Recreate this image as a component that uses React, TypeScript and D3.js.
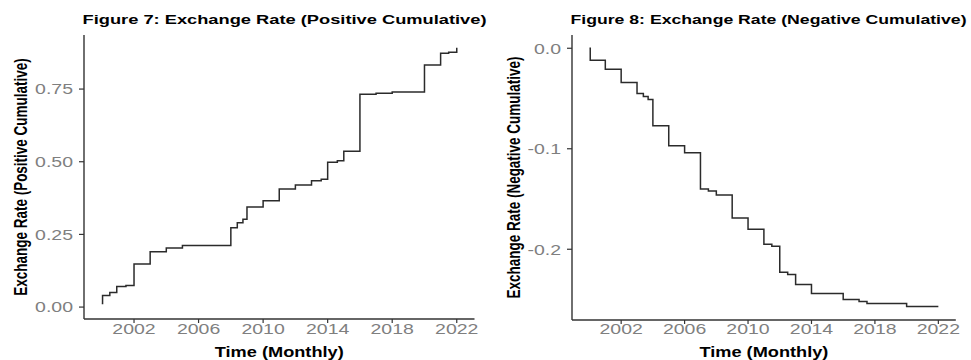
import { curveStepAfter, line, scaleLinear } from "d3";

// decimal year at which each step starts, and the cumulative value from there on
const positiveDates = [
  2000.0, 2000.05, 2000.5, 2000.93, 2001.5, 2002.0, 2003.0, 2004.0, 2005.0, 2008.0, 2008.4,
  2008.75, 2009.0, 2010.0, 2011.0, 2012.0, 2013.0, 2013.6, 2014.0, 2014.6, 2015.0, 2016.0,
  2017.0, 2018.0, 2020.0, 2021.0, 2021.5, 2022.0
];
const positiveValues = [
  0.012, 0.04, 0.05, 0.071, 0.074, 0.148, 0.19, 0.203, 0.212, 0.273, 0.29, 0.302, 0.344,
  0.366, 0.406, 0.42, 0.435, 0.44, 0.498, 0.503, 0.536, 0.732, 0.736, 0.74, 0.833, 0.873,
  0.877, 0.892
];

const negativeDates = [
  2000.0, 2000.05, 2001.0, 2002.0, 2003.0, 2003.4, 2003.7, 2004.0, 2005.0, 2006.0, 2007.0,
  2007.5, 2008.0, 2009.0, 2010.0, 2011.0, 2011.5, 2012.0, 2012.5, 2013.0, 2014.0, 2016.0,
  2017.0, 2017.5, 2020.0, 2022.0
];
const negativeValues = [
  0.0, -0.012, -0.021, -0.034, -0.045, -0.048, -0.051, -0.077, -0.097, -0.104, -0.14,
  -0.142, -0.146, -0.169, -0.18, -0.195, -0.197, -0.223, -0.225, -0.235, -0.244, -0.25,
  -0.252, -0.254, -0.257, -0.257
];

const yearTicks = [2002, 2006, 2010, 2014, 2018, 2022];
const positiveTicks = [0, 0.25, 0.5, 0.75];
const negativeTicks = [0, -0.1, -0.2];

const width = 971;
const height = 360;
const stretch = 1.3;
const axisColor = "#333333";
const tickTextColor = "#7f7f7f";
const fontFamily = "'Liberation Sans', Arial, sans-serif";

interface PanelProps {
  readonly title: string;
  readonly titleLength: number;
  readonly yLabel: string;
  readonly dates: readonly number[];
  readonly values: readonly number[];
  readonly yTicks: readonly number[];
  readonly yDigits: number;
  readonly left: number;
  readonly right: number;
  readonly top: number;
  readonly bottom: number;
  readonly yDomain: [number, number];
  readonly titleX: number;
  readonly yLabelX: number;
}

function StretchText({
  x,
  y,
  children,
  anchor = "start",
  size,
  weight = "normal",
  fill = "#000",
  rotate = false,
  length
}: {
  readonly x: number;
  readonly y: number;
  readonly children: string;
  readonly anchor?: "start" | "middle" | "end";
  readonly size: number;
  readonly weight?: string;
  readonly fill?: string;
  readonly rotate?: boolean;
  readonly length?: number;
}): React.JSX.Element {
  const scale = length === undefined ? ` scale(${stretch},1)` : "";
  return (
    <text
      fill={fill}
      fontFamily={fontFamily}
      fontSize={size}
      fontWeight={weight}
      lengthAdjust={length === undefined ? undefined : "spacingAndGlyphs"}
      textAnchor={anchor}
      textLength={length}
      transform={`translate(${x},${y})${scale}${rotate ? " rotate(-90)" : ""}`}
    >
      {children}
    </text>
  );
}

function Panel(props: PanelProps): React.JSX.Element {
  const x = scaleLinear().domain([1998.9, 2023.1]).range([props.left, props.right]);
  const y = scaleLinear().domain(props.yDomain).range([props.bottom, props.top]);
  const points = props.dates.map((d, i) => [d, props.values[i]] as [number, number]);
  const path =
    line<[number, number]>()
      .curve(curveStepAfter)
      .x(([d]) => x(d))
      .y(([, v]) => y(v))(points) ?? "";

  return (
    <g>
      <StretchText length={props.titleLength} size={13.5} weight="bold" x={props.titleX} y={24}>
        {props.title}
      </StretchText>
      <StretchText
        anchor="middle"
        rotate
        size={13.5}
        weight="bold"
        x={props.yLabelX}
        y={(props.top + props.bottom) / 2}
      >
        {props.yLabel}
      </StretchText>
      <StretchText
        anchor="middle"
        size={14}
        weight="bold"
        x={(props.left + props.right) / 2}
        y={357}
      >
        Time (Monthly)
      </StretchText>

      <line
        stroke={axisColor}
        strokeWidth={1.4}
        x1={props.left}
        x2={props.left}
        y1={props.top}
        y2={props.bottom}
      />
      <line
        stroke={axisColor}
        strokeWidth={1.4}
        x1={props.left}
        x2={props.right}
        y1={props.bottom}
        y2={props.bottom}
      />

      {props.yTicks.map((t) => (
        <g key={`y${t}`}>
          <line
            stroke={axisColor}
            strokeWidth={1.2}
            x1={props.left - 5}
            x2={props.left}
            y1={y(t)}
            y2={y(t)}
          />
          <StretchText
            anchor="end"
            fill={tickTextColor}
            size={15}
            x={props.left - 11}
            y={y(t) + 5.3}
          >
            {t.toFixed(props.yDigits)}
          </StretchText>
        </g>
      ))}

      {yearTicks.map((t) => (
        <g key={`x${t}`}>
          <line
            stroke={axisColor}
            strokeWidth={1.2}
            x1={x(t)}
            x2={x(t)}
            y1={props.bottom}
            y2={props.bottom + 4}
          />
          <StretchText anchor="middle" fill={tickTextColor} size={15} x={x(t)} y={334}>
            {String(t)}
          </StretchText>
        </g>
      ))}

      <path d={path} fill="none" stroke="#2b2b2b" strokeWidth={1.5} />
    </g>
  );
}

export default function App(): React.JSX.Element {
  return (
    <svg
      height={height}
      style={{ position: "absolute", left: 0, top: 0, background: "#fff" }}
      viewBox={`0 0 ${width} ${height}`}
      width={width}
    >
      <Panel
        bottom={319}
        dates={positiveDates}
        left={84}
        right={474.5}
        title="Figure 7: Exchange Rate (Positive Cumulative)"
        titleLength={404}
        titleX={82.5}
        top={35}
        values={positiveValues}
        yDigits={2}
        yDomain={[-0.041, 0.936]}
        yLabel="Exchange Rate (Positive Cumulative)"
        yLabelX={27}
        yTicks={positiveTicks}
      />
      <Panel
        bottom={320}
        dates={negativeDates}
        left={572}
        right={955.8}
        title="Figure 8: Exchange Rate (Negative Cumulative)"
        titleLength={396}
        titleX={570.5}
        top={35}
        values={negativeValues}
        yDigits={1}
        yDomain={[-0.2704, 0.0132]}
        yLabel="Exchange Rate (Negative Cumulative)"
        yLabelX={520}
        yTicks={negativeTicks}
      />
    </svg>
  );
}
